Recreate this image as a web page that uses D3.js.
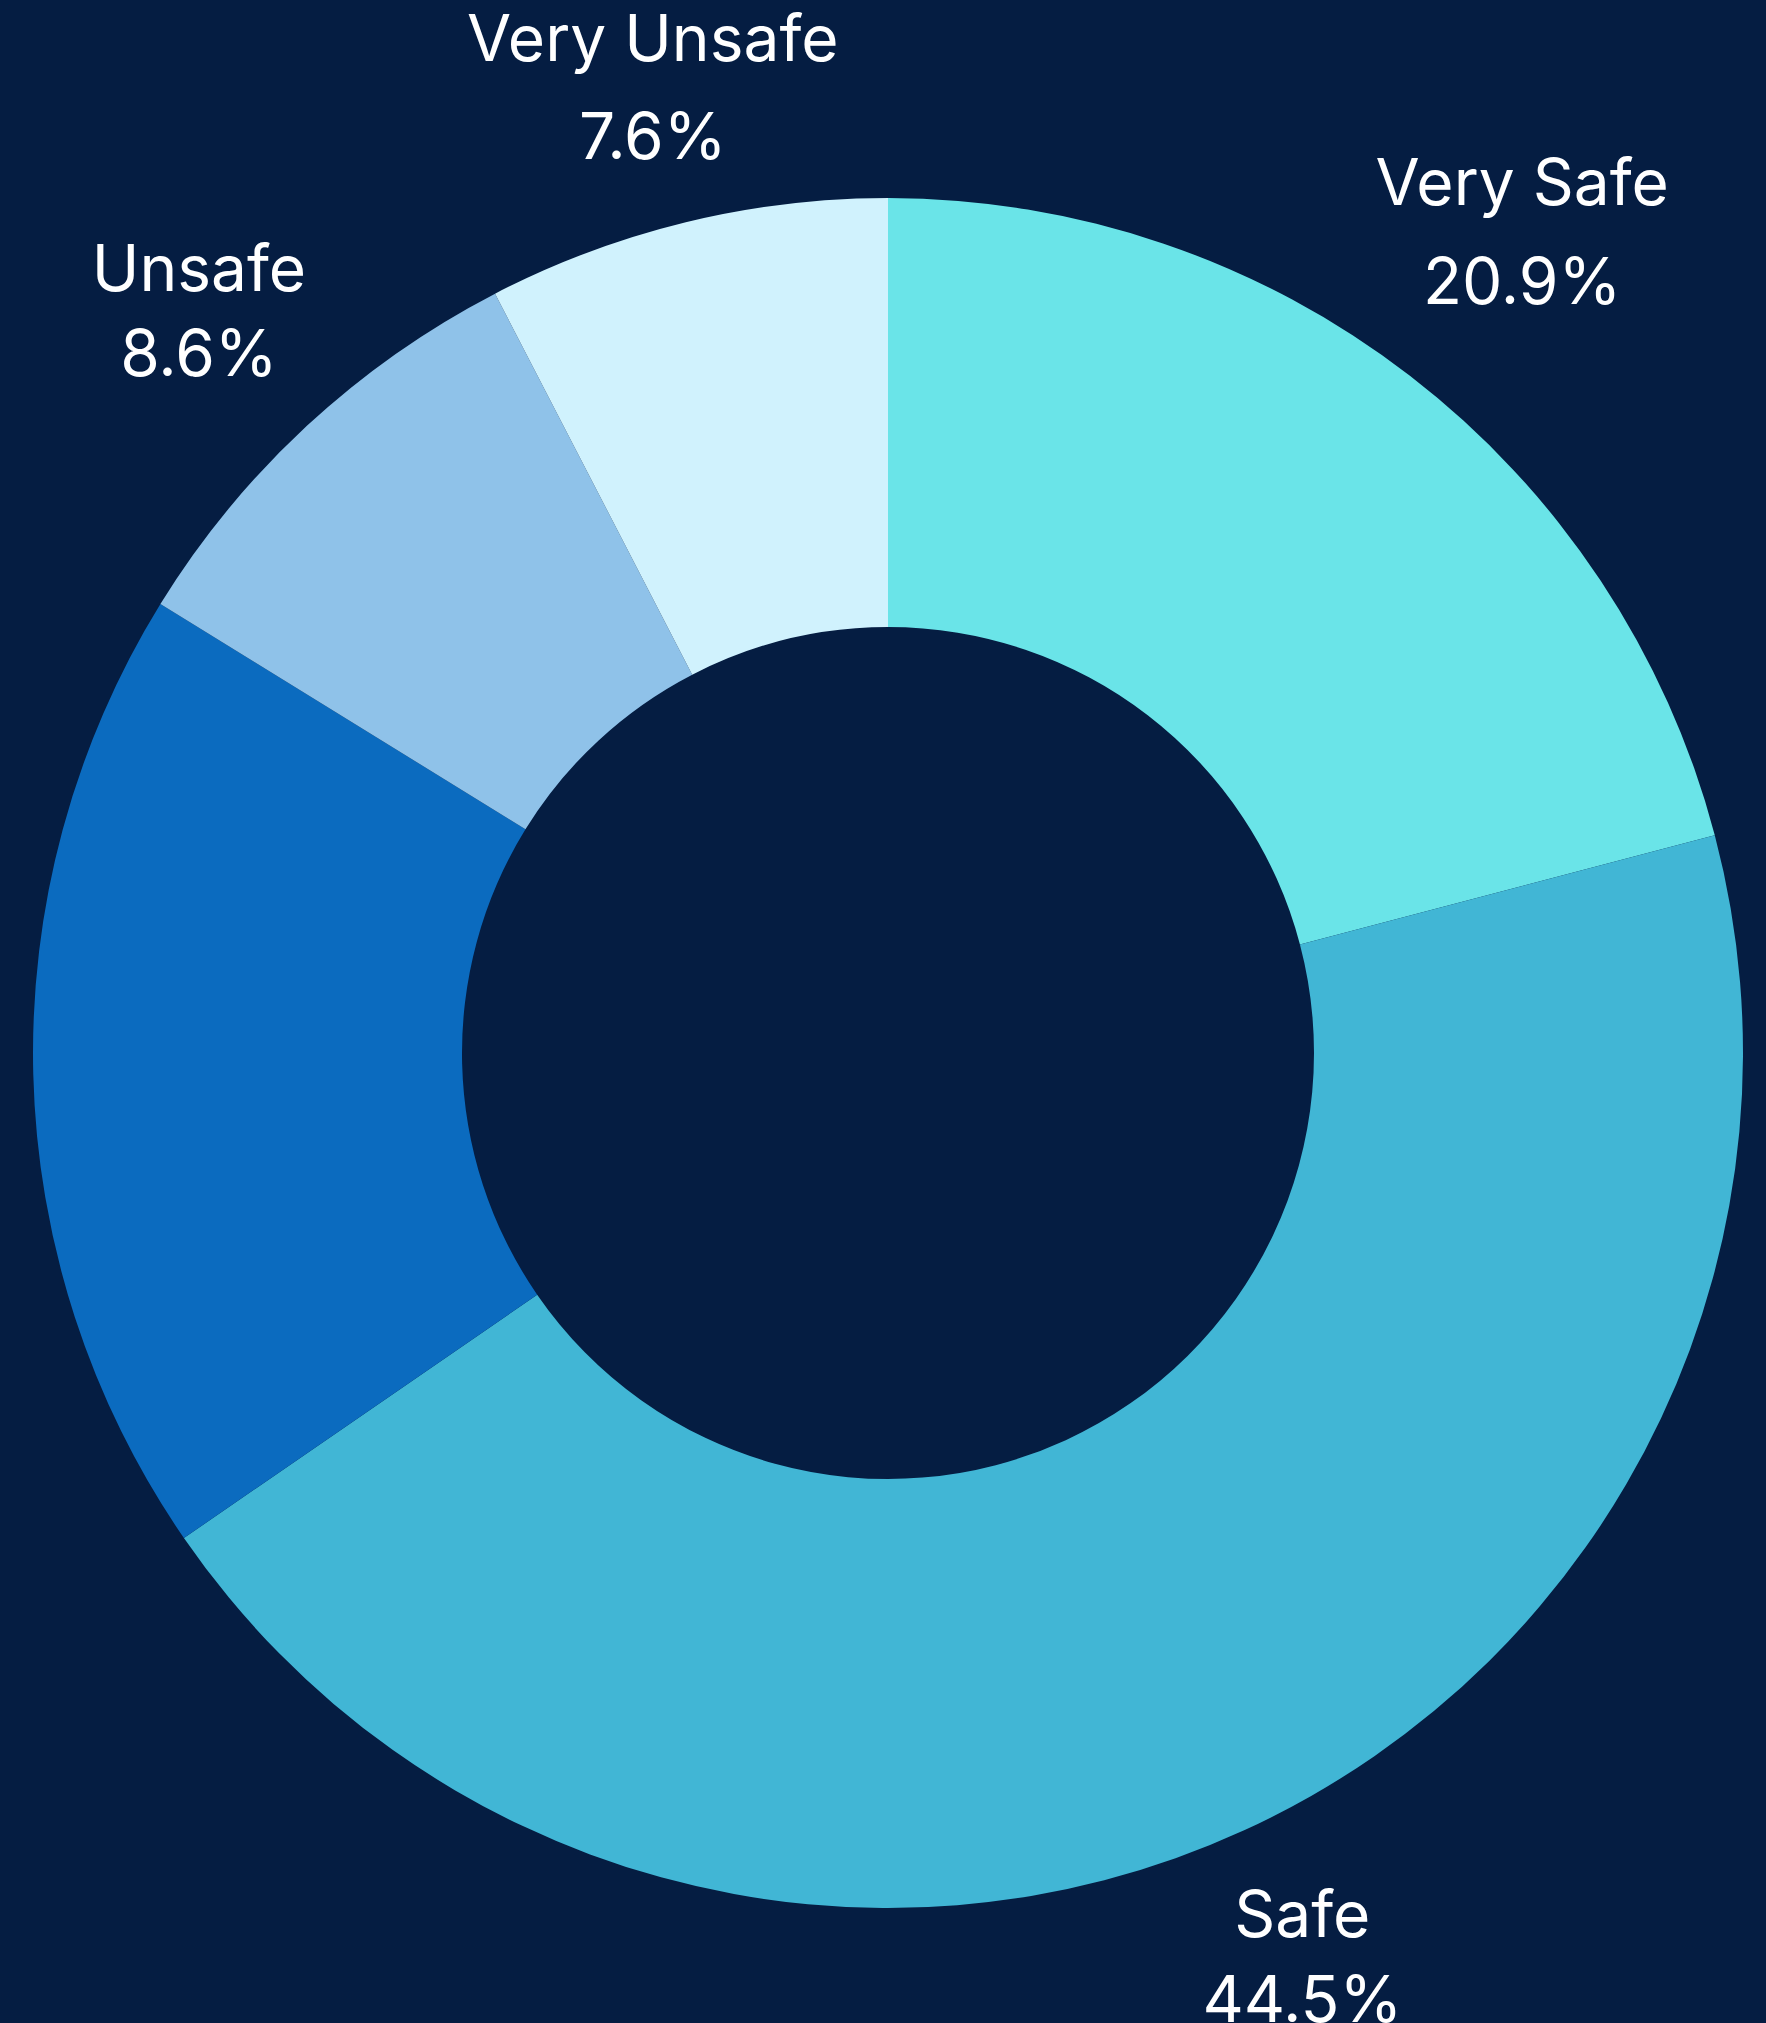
<!DOCTYPE html>
<html>
<head>
<meta charset="utf-8">
<script src="https://cdn.jsdelivr.net/npm/d3@7"></script>
<style>
  html, body { margin: 0; padding: 0; background: #051d42; }
  svg { display: block; }
</style>
</head>
<body>
<svg id="chart"></svg>
<script>
// Data
const categories = ["Very Safe", "Safe", "Neutral", "Unsafe", "Very Unsafe"];
const values = [20.9, 44.5, 18.4, 8.6, 7.6];
const colors = ["#6ae4e8", "#41b6d5", "#0b6bbf", "#8fc2e9", "#d0f2fd"];
const showLabel = [true, true, false, true, true];

const width = 1766, height = 2023;
const cx = 888, cy = 1053;
const outerR = 855, innerR = 426;
const labelR = 894;
const fontSize = 64;
const fontFamily = "Inter, 'DejaVu Sans', sans-serif";

const svg = d3.select("#chart").attr("width", width).attr("height", height);
svg.append("rect").attr("width", width).attr("height", height).attr("fill", "#051d42");

const g = svg.append("g").attr("transform", `translate(${cx},${cy})`);

const pie = d3.pie().sort(null).value(d => d.value);
const arc = d3.arc().innerRadius(innerR).outerRadius(outerR);

const rows = categories.map((c, i) => ({ name: c, value: values[i], color: colors[i], show: showLabel[i] }));
const arcs = pie(rows);

// Slices
g.selectAll("path")
    .data(arcs)
    .join("path")
    .attr("d", arc)
    .attr("fill", d => d.data.color);

// measure real glyph extents
const ctx = document.createElement("canvas").getContext("2d");
ctx.font = `${fontSize}px ${fontFamily}`;
const measure = s => {
    const m = ctx.measureText(s);
    return { w: m.actualBoundingBoxLeft + m.actualBoundingBoxRight,
             asc: m.actualBoundingBoxAscent, desc: m.actualBoundingBoxDescent };
};

// Labels
const gap = 36;
arcs.filter(d => d.data.show).forEach(d => {
    const l1 = d.data.name;
    const l2 = d3.format(".1f")(d.data.value) + "%";
    const m1 = measure(l1), m2 = measure(l2);
    const b1 = m1.asc;
    const b2 = b1 + m1.desc + gap + m2.asc;
    const boxH = b2 + m2.desc;
    const hw = Math.max(m1.w, m2.w) / 2, hh = boxH / 2;

    const lab = g.append("text")
        .attr("fill", "#ffffff")
        .attr("font-family", fontFamily)
        .attr("font-size", fontSize)
        .attr("text-anchor", "middle");
    lab.append("tspan").attr("x", 0).attr("y", b1 - hh).text(l1);
    lab.append("tspan").attr("x", 0).attr("y", b2 - hh).text(l2);

    const mid = (d.startAngle + d.endAngle) / 2;
    const ux = Math.sin(mid), uy = -Math.cos(mid);

    // push the box out along the mid angle until its nearest point sits on labelR
    const nearest = t => {
        const bx = ux * t, by = uy * t;
        const nx = Math.max(bx - hw, Math.min(0, bx + hw));
        const ny = Math.max(by - hh, Math.min(0, by + hh));
        return Math.hypot(nx, ny);
    };
    let lo = 0, hi = 2000;
    for (let k = 0; k < 60; k++) {
        const m = (lo + hi) / 2;
        if (nearest(m) < labelR) lo = m; else hi = m;
    }
    lab.attr("transform", `translate(${ux * lo},${uy * lo})`);
});
</script>
</body>
</html>
